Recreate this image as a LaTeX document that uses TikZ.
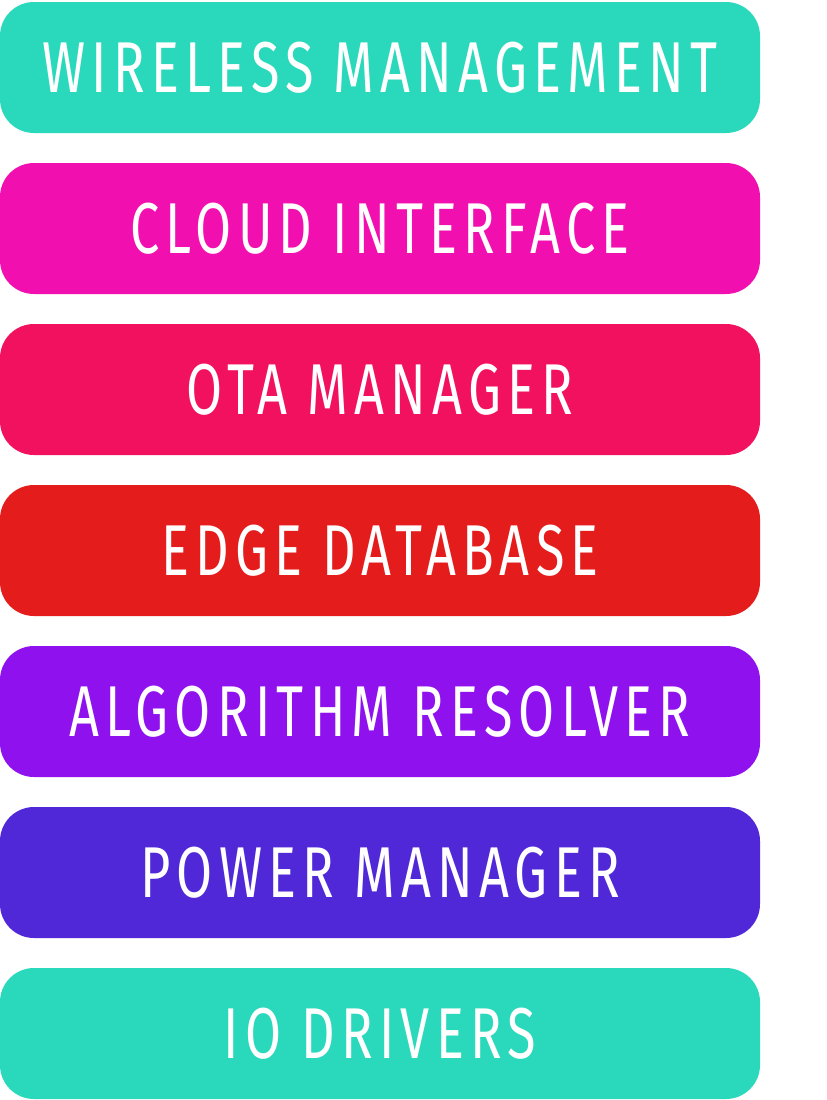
\documentclass[tikz,border=0pt]{standalone}
\usepackage{fontspec}
\setmainfont{Fira Sans}[LetterSpace=12]
\usepackage{graphicx}
\definecolor{tealbox}{HTML}{2AD9BB}
\definecolor{magentabox}{HTML}{F20FB0}
\definecolor{crimsonbox}{HTML}{F2115E}
\definecolor{redbox}{HTML}{E41C1C}
\definecolor{purplebox}{HTML}{8E11EE}
\definecolor{indigobox}{HTML}{5028D8}
\newcommand{\layertext}[1]{\scalebox{0.725}[1]{\fontsize{72}{72}\selectfont #1}}
\tikzset{
  layer/.style={rectangle, rounded corners=34pt, minimum width=760pt, minimum height=131pt,
    inner sep=0pt, text=white, fill=#1}
}

\begin{document}
\begin{tikzpicture}[x=1pt,y=-1pt]
  \useasboundingbox (0,0) rectangle (827,1100);
  \node [layer=tealbox] (wireless) at (380,67.5) {\layertext{WIRELESS MANAGEMENT}};
  \node [layer=magentabox] (cloud) at (380,228.5) {\layertext{CLOUD INTERFACE}};
  \node [layer=crimsonbox] (ota) at (380,389.5) {\layertext{OTA MANAGER}};
  \node [layer=redbox] (edgedb) at (380,550.5) {\layertext{EDGE DATABASE}};
  \node [layer=purplebox] (algo) at (380,711.5) {\layertext{ALGORITHM RESOLVER}};
  \node [layer=indigobox] (power) at (380,872.5) {\layertext{POWER MANAGER}};
  \node [layer=tealbox] (io) at (380,1033.5) {\layertext{IO DRIVERS}};
\end{tikzpicture}
\end{document}
